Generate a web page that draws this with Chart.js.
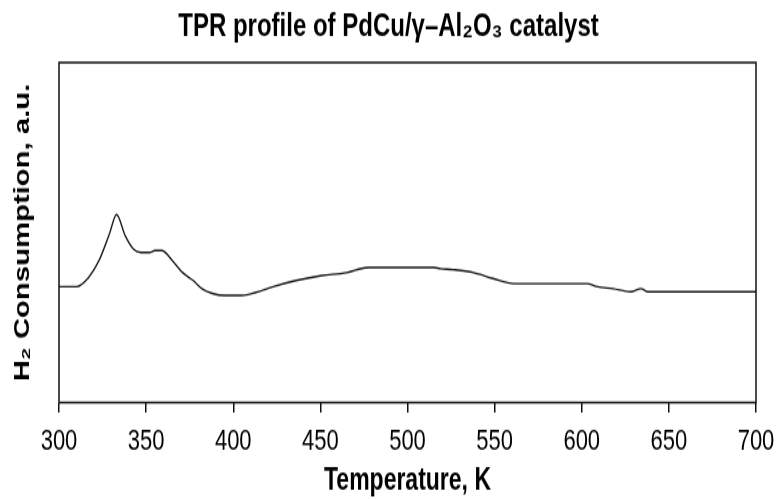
<!DOCTYPE html>
<html>
<head>
<meta charset="utf-8">
<script src="https://cdn.jsdelivr.net/npm/chart.js@4"></script>
<style>
  body { margin: 0; background: #fff; overflow: hidden; }
  /* the original figure is stretched vertically, so the canvas is drawn short and shown tall */
  #tpr { display: block; width: 777px; height: 499px; }
</style>
</head>
<body>
<canvas id="tpr" width="777" height="375" style="width:777px;height:499px"></canvas>
<script>
// temperature (K) and H2 consumption (a.u.)
const temps = [300, 310, 317, 323, 329, 333, 338, 343, 347, 352, 355, 359, 365, 371, 377, 382, 388, 395, 405, 413, 423, 436, 451, 465, 471, 478, 515, 519, 526, 538, 549, 561, 603, 609, 618, 628, 634, 638, 700];
const consumption = [34.1, 34.1, 36.8, 41.8, 49.7, 55.3, 49.1, 45.0, 44.1, 44.1, 44.7, 44.7, 41.8, 38.2, 35.9, 33.5, 32.1, 31.5, 31.5, 32.4, 34.1, 35.9, 37.4, 38.2, 39.1, 39.7, 39.7, 39.4, 39.1, 38.2, 36.5, 35.0, 35.0, 34.1, 33.5, 32.6, 33.5, 32.6, 32.6];
const xTicks = [300, 350, 400, 450, 500, 550, 600, 650, 700];

const points = temps.map((t, i) => ({ x: t, y: consumption[i] }));
const arial = "'Liberation Sans', Arial, sans-serif";

// the plot frame (all four sides)
const frameBox = {
    id: 'frameBox',
    afterDraw(chart) {
        const a = chart.chartArea;
        const ctx = chart.ctx;
        ctx.save();
        ctx.strokeStyle = '#111';
        ctx.lineWidth = 1.5;
        ctx.strokeRect(a.left, a.top, a.right - a.left, a.bottom - a.top);
        ctx.restore();
    }
};

new Chart(document.getElementById('tpr'), {
    type: 'line',
    data: {
        datasets: [{
            data: points,
            borderColor: '#1a1a1a',
            borderWidth: 1.4,
            pointRadius: 0,
            cubicInterpolationMode: 'monotone',
            fill: false
        }]
    },
    options: {
        responsive: false,
        animation: false,
        layout: { padding: 0 },
        plugins: {
            legend: { display: false },
            tooltip: { enabled: false },
            title: {
                display: true,
                text: 'TPR profile of PdCu/γ–Al₂O₃ catalyst',
                color: '#000',
                font: { family: arial, size: 24, weight: 'bold' },
                padding: { top: 6, bottom: 12.2 }
            }
        },
        scales: {
            x: {
                type: 'linear',
                min: 300,
                max: 700,
                afterBuildTicks: (s) => { s.ticks = xTicks.map(v => ({ value: v })); },
                grid: { display: true, drawOnChartArea: false, drawTicks: true, tickLength: 7.5, color: '#111', lineWidth: 1.5 },
                border: { display: false },
                ticks: {
                    color: '#000',
                    padding: 9,
                    maxRotation: 0,
                    autoSkip: false,
                    font: { family: arial, size: 22 }
                },
                title: {
                    display: true,
                    text: 'Temperature, K',
                    color: '#000',
                    font: { family: arial, size: 23, weight: 'bold' },
                    padding: { top: 0, bottom: 0 }
                },
                afterFit: (s) => {
                    s.height = 72.5;
                    s.paddingLeft = 0;
                    s.paddingRight = 21;
                }
            },
            y: {
                min: 0,
                max: 100,
                grid: { display: false },
                border: { display: false },
                ticks: { display: false },
                title: {
                    display: true,
                    text: 'H₂ Consumption, a.u.',
                    color: '#000',
                    font: { family: arial, size: 22, weight: 'bold' },
                    padding: { top: 10, bottom: 0 }
                },
                afterFit: (s) => { s.width = 59; }
            }
        }
    },
    plugins: [frameBox]
});
</script>
</body>
</html>
